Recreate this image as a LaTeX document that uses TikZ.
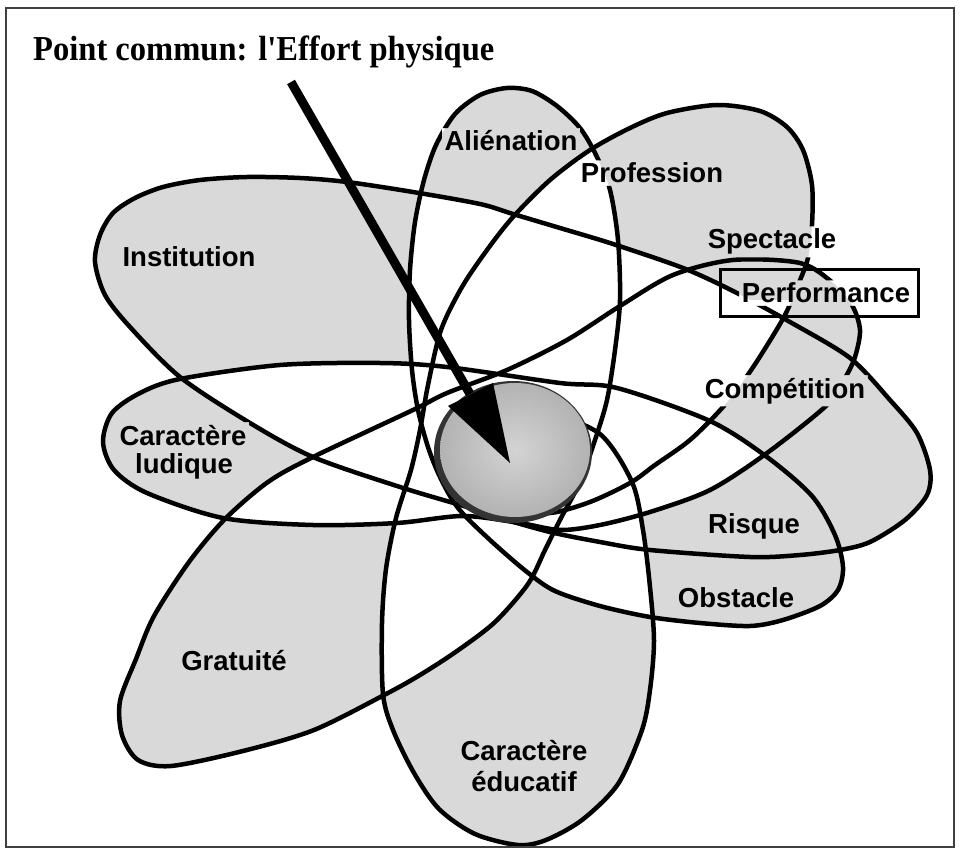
\documentclass[tikz,border=0pt]{standalone}
\usepackage{fontspec}
\newfontfamily\lblfont{Liberation Sans}
\newfontfamily\ttlfont{Liberation Serif}[FakeStretch=0.93]
% ---------- the three drawn curves ----------
\newcommand\curveS{plot[smooth cycle] coordinates {(507,88) (532,91) (557,106) (580,128) (596,155) (610,190) (618,240) (620,300) (615,350) (607,400) (595,440) (580,482) (561,518) (545,550) (528,584) (495,622) (457,651) (420,675) (386,694) (314,730) (243,751) (171,766) (138,760) (122,735) (120,701) (136,659) (154,616) (189,562) (225,519) (268,482) (313,457) (413,410) (447,393) (507,370) (567,340) (620,306) (673,275) (733,260) (800,263) (833,283) (852,305) (860,330) (855,357) (845,378) (827,405) (767,453) (710,490) (650,512) (600,525) (560,530) (520,523) (463,516) (397,523) (313,525) (223,518) (147,493) (114,470) (103,442) (112,413) (140,393) (180,379) (280,365) (380,363) (447,367) (560,383) (617,388) (710,421) (767,457) (812,496) (835,535) (843,567) (838,590) (820,606) (783,620) (750,626) (700,623) (650,617) (600,606) (555,591) (527,572) (490,540) (458,508) (440,477) (428,447) (418,410) (412,370) (409,320) (410,270) (415,222) (424,180) (436,145) (455,114) (480,95)}}
\newcommand\curveC{plot[smooth cycle] coordinates {(95,262) (100,235) (113,213) (135,198) (163,187) (200,180) (247,177) (300,178) (347,182) (413,192) (480,204) (513,214) (560,228) (613,244) (683,268) (733,291) (790,322) (850,358) (890,400) (917,433) (930,470) (927,495) (905,520) (870,542) (840,550) (800,555) (750,557) (650,550) (600,542) (550,532) (500,518) (467,507) (400,487) (313,457) (250,423) (180,377) (130,327) (105,295)}}
\newcommand\curveP{plot[smooth] coordinates {(545,410) (600,434) (632,482) (643,530) (650,587) (654,641) (650,690) (642,730) (618,784) (582,820) (546,840) (518,845) (475,834) (439,809) (414,773) (393,730) (383,694) (382,623) (386,569) (396,518) (411,470) (420,430) (428,385) (441,330) (462,287) (487,250) (513,217) (550,180) (590,150) (630,128) (667,113) (717,105) (760,111) (787,127) (803,150) (812,185) (812,225) (808,258) (798,285) (785,315) (766,347) (747,376) (723,407) (690,440) (655,465) (630,483) (590,502) (550,513) (515,508)}}
% ---------- lobe regions (same points, closed) ----------
\newcommand\rgC{\curveC}
\newcommand\rgAlie{plot[smooth] coordinates {(440,477) (428,447) (418,410) (412,370) (409,320) (410,270) (415,222) (424,180) (436,145) (455,114) (480,95) (507,88) (532,91) (557,106) (580,128) (596,155) (610,190) (618,240) (620,300) (615,350) (607,400) (595,440) (580,482)} -- cycle}
\newcommand\rgGrat{plot[smooth] coordinates {(595,440) (580,482) (561,518) (545,550) (528,584) (495,622) (457,651) (420,675) (386,694) (314,730) (243,751) (171,766) (138,760) (122,735) (120,701) (136,659) (154,616) (189,562) (225,519) (268,482) (313,457) (413,410) (447,393)} -- cycle}
\newcommand\rgPerf{plot[smooth] coordinates {(507,370) (567,340) (620,306) (673,275) (733,260) (800,263) (833,283) (852,305) (860,330) (855,357) (845,378) (827,405) (767,453) (710,490) (650,512) (600,525) (560,530)} -- cycle}
\newcommand\rgLud{plot[smooth] coordinates {(520,523) (463,516) (397,523) (313,525) (223,518) (147,493) (114,470) (103,442) (112,413) (140,393) (180,379) (280,365) (380,363) (447,367) (560,383)} -- cycle}
\newcommand\rgObst{plot[smooth] coordinates {(560,383) (617,388) (710,421) (767,457) (812,496) (835,535) (843,567) (838,590) (820,606) (783,620) (750,626) (700,623) (650,617) (600,606) (555,591) (527,572) (490,540) (458,508)} -- cycle}
\newcommand\rgProf{plot[smooth] coordinates {(411,470) (420,430) (428,385) (441,330) (462,287) (487,250) (513,217) (550,180) (590,150) (630,128) (667,113) (717,105) (760,111) (787,127) (803,150) (812,185) (812,225) (808,258) (798,285) (785,315) (766,347) (747,376) (723,407) (690,440) (655,465) (630,483) (590,502) (550,513)} -- cycle}
\newcommand\rgEduc{plot[smooth] coordinates {(545,410) (600,434) (632,482) (643,530) (650,587) (654,641) (650,690) (642,730) (618,784) (582,820) (546,840) (518,845) (475,834) (439,809) (414,773) (393,730) (383,694) (382,623) (386,569) (396,518) (411,470) (420,430) (428,385)} -- cycle}
% outer frame traversed the other way round, for "outside of" clips
\newcommand\rgOut{(-5,-5) -- (-5,855) -- (966,855) -- (966,-5) -- cycle}
\newcommand\hole[1]{(#1.north west) -- (#1.north east) -- (#1.south east) -- (#1.south west) -- cycle}
\begin{document}
\begin{tikzpicture}[x=1pt,y=-1pt,
  curve/.style={line width=4.5pt, line join=round, line cap=round},
  lobefill/.style={fill=black!15},
  lbl/.style={font=\lblfont\bfseries\fontsize{27.5}{30}\selectfont, inner sep=2.5pt, anchor=base},
  ttl/.style={font=\ttlfont\bfseries\fontsize{35}{38}\selectfont, inner sep=0pt, anchor=base west}]
\useasboundingbox (0,0) rectangle (961,850);
\fill[white] (0,0) rectangle (961,850);

% ---------- label boxes (invisible, for line knock-out) ----------
\node[lbl] (kAlie) at (511,151) {\phantom{Aliénation}};
\node[lbl] (kProf) at (652,183) {\phantom{Profession}};
\node[lbl] (kSpec) at (772,249) {\phantom{Spectacle}};
\node[lbl] (kPerf) at (826,303) {\phantom{Performance}};
\node[lbl] (kComp) at (785,398) {\phantom{Compétition}};
\node[lbl] (kRisq) at (754,533) {\phantom{Risque}};
\node[lbl] (kObst) at (736,607) {\phantom{Obstacle}};
\node[lbl] (kEduA) at (524,760) {\phantom{Caractère}};
\node[lbl] (kEduB) at (524,791) {\phantom{éducatif}};
\node[lbl] (kGrat) at (234,670) {\phantom{Gratuité}};
\node[lbl] (kLudA) at (183,445) {\phantom{Caractère}};
\node[lbl] (kLudB) at (184,473) {\phantom{ludique}};
\node[lbl] (kInst) at (189,267) {\phantom{Institution}};

% ---------- grey cells ----------
\begin{scope}[even odd rule]% Alienation
 \clip (400,80) rectangle (630,240);
 \clip \rgAlie;
 \clip \rgOut \rgC;
 \clip \rgOut \rgProf;
 \fill[lobefill] (0,0) rectangle (961,850);
\end{scope}
\begin{scope}[even odd rule]% Profession
 \clip (580,95) rectangle (830,300);
 \clip \rgProf;
 \clip \rgOut \rgAlie;
 \clip \rgOut \rgC;
 \fill[lobefill] (0,0) rectangle (961,850);
\end{scope}
\begin{scope}[even odd rule]% Performance
 \clip (680,250) rectangle (870,460);
 \clip \rgPerf;
 \clip \rgOut \rgProf;
 \clip \rgOut \rgObst;
 \clip \rgOut \rgAlie;
 \clip \rgOut \rgEduc;
 \fill[lobefill] (0,0) rectangle (961,850);
\end{scope}
\begin{scope}[even odd rule]% Institution and Competition tips
 \clip (85,170) rectangle (420,385) (690,280) rectangle (940,565);
 \clip \rgC;
 \clip \rgOut \rgLud;
 \clip \rgOut \rgAlie;
 \clip \rgOut \rgProf;
 \clip \rgOut \rgPerf;
 \clip \rgOut \rgObst;
 \clip \rgOut \rgEduc;
 \clip \rgOut \rgGrat;
 \fill[lobefill] (0,0) rectangle (961,850);
\end{scope}
\begin{scope}[even odd rule]% Risque
 \clip (640,440) rectangle (860,570);
 \clip \rgC;
 \clip \rgObst;
 \clip \rgOut \rgPerf;
 \clip \rgOut \rgEduc;
 \fill[lobefill] (0,0) rectangle (961,850);
\end{scope}
\begin{scope}[even odd rule]% Obstacle
 \clip (640,530) rectangle (850,640);
 \clip \rgObst;
 \clip \rgOut \rgC;
 \clip \rgOut \rgEduc;
 \fill[lobefill] (0,0) rectangle (961,850);
\end{scope}
\begin{scope}[even odd rule]% Caractere educatif
 \clip (375,560) rectangle (665,850);
 \clip \rgEduc;
 \clip \rgOut \rgGrat;
 \clip \rgOut \rgObst;
 \fill[lobefill] (0,0) rectangle (961,850);
\end{scope}
\begin{scope}[even odd rule]% Gratuite
 \clip (110,500) rectangle (400,780);
 \clip \rgGrat;
 \clip \rgOut \rgEduc;
 \clip \rgOut \rgLud;
 \fill[lobefill] (0,0) rectangle (961,850);
\end{scope}
\begin{scope}[even odd rule]% Caractere ludique
 \clip (95,360) rectangle (330,530);
 \clip \rgLud;
 \clip \rgOut \rgC;
 \clip \rgOut \rgGrat;
 \fill[lobefill] (0,0) rectangle (961,850);
\end{scope}

% ---------- outlines, knocked out behind the labels ----------
\begin{scope}[even odd rule]
 \clip \rgOut \hole{kAlie} \hole{kProf} \hole{kSpec} \hole{kPerf}
   \hole{kComp} \hole{kRisq} \hole{kObst} \hole{kEduA} \hole{kEduB} \hole{kGrat}
   \hole{kLudA} \hole{kLudB} \hole{kInst};
 \draw[curve] \curveC;
 \draw[curve] \curveS;
 \draw[curve] \curveP;
\end{scope}

% ---------- box round Performance ----------
\node[draw, line width=3pt, minimum width=198pt, minimum height=47pt, inner sep=0pt] (boxPerf) at (819,293.5) {};

% ---------- central disc ----------
\fill[black!80] (513,452) ellipse [x radius=79, y radius=71];
\shade[inner color=black!17, outer color=black!30] (515,450) ellipse [x radius=75, y radius=67];

% ---------- arrow ----------
\coordinate (arrStart) at (291,82);
\coordinate (arrBase) at (470,394);
\coordinate (arrL) at (448,406);
\coordinate (arrR) at (493,383);
\coordinate (arrTip) at (510,463);
\draw[line width=9pt] (arrStart) -- (arrBase);
\fill (arrL) -- (arrR) -- (arrTip) -- cycle;

% ---------- labels ----------
\node[lbl] (tAlie) at (511,151) {Aliénation};
\node[lbl] (tProf) at (652,183) {Profession};
\node[lbl] (tSpec) at (772,249) {Spectacle};
\node[lbl] (tPerf) at (826,303) {Performance};
\node[lbl] (tComp) at (785,398) {Compétition};
\node[lbl] (tRisq) at (754,533) {Risque};
\node[lbl] (tObst) at (736,607) {Obstacle};
\node[lbl] (tEduA) at (524,760) {Caractère};
\node[lbl] (tEduB) at (524,791) {éducatif};
\node[lbl] (tGrat) at (234,670) {Gratuité};
\node[lbl] (tLudA) at (183,445) {Caractère};
\node[lbl] (tLudB) at (184,473) {ludique};
\node[lbl] (tInst) at (189,267) {Institution};

\node[ttl] (title) at (33,61) {Point commun: l'Effort physique};

% ---------- frame ----------
\draw[black!75, line width=1.3pt] (6,8) rectangle (954,847);
\end{tikzpicture}
\end{document}
